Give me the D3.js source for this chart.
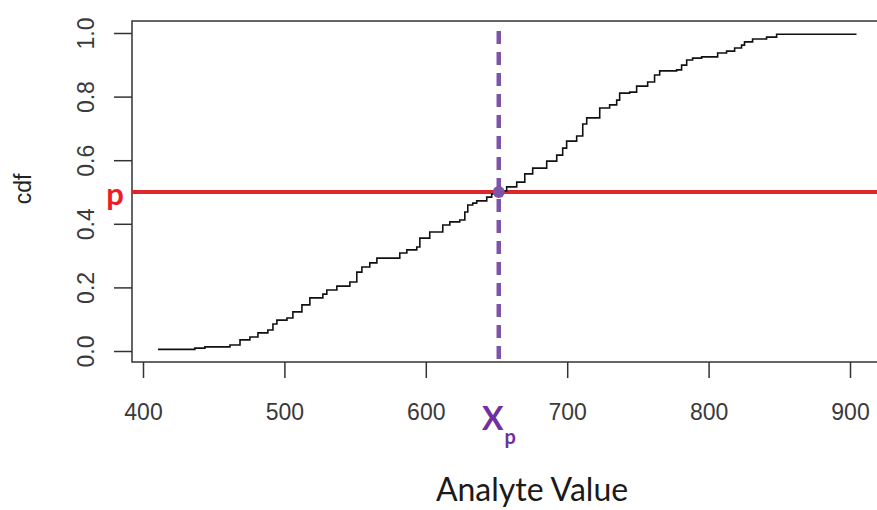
<!DOCTYPE html>
<html>
<head>
<meta charset="utf-8" />
<title>cdf - Analyte Value</title>
<script src="https://d3js.org/d3.v7.min.js"></script>
<style>
  body { margin: 0; background: #ffffff; }
</style>
</head>
<body>
<svg id="viz"></svg>
<script>

var analyteValues = [410.6, 436.7, 443.8, 461.5, 468.6, 475.6, 481.3, 488.3, 491.9, 494.7,
  501.8, 506.0, 512.4, 518.0, 527.2, 530.0, 537.1, 546.3, 551.2, 554.8,
  560.4, 565.4, 581.6, 586.6, 593.6, 595.8, 602.8, 612.0, 617.0, 624.0,
  627.6, 629.7, 633.2, 636.0, 643.1, 646.6, 651.6, 657.2, 664.3, 670.0,
  675.6, 685.5, 692.6, 696.8, 699.6, 706.7, 711.0, 713.8, 723.0, 730.0,
  735.0, 737.1, 744.2, 749.1, 756.9, 761.8, 765.4, 777.4, 780.9, 784.5,
  788.7, 795.1, 806.4, 812.7, 818.4, 823.3, 825.4, 831.1, 841.0, 848.1, 904.6];
var cdfValues = [0.005, 0.009, 0.013, 0.019, 0.035, 0.044, 0.057, 0.066, 0.085, 0.097,
  0.104, 0.123, 0.145, 0.167, 0.179, 0.192, 0.204, 0.217, 0.248, 0.264,
  0.277, 0.292, 0.308, 0.318, 0.327, 0.355, 0.374, 0.396, 0.406, 0.412,
  0.437, 0.459, 0.465, 0.472, 0.484, 0.494, 0.503, 0.516, 0.531, 0.557,
  0.575, 0.597, 0.616, 0.638, 0.660, 0.676, 0.714, 0.733, 0.764, 0.774,
  0.789, 0.811, 0.814, 0.833, 0.846, 0.868, 0.881, 0.884, 0.899, 0.915,
  0.921, 0.925, 0.937, 0.943, 0.953, 0.962, 0.972, 0.981, 0.987, 0.996, 0.996];

var xTicks = [400, 500, 600, 700, 800, 900];
var yTicks = [0.0, 0.2, 0.4, 0.6, 0.8, 1.0];

var pLevel = 0.5;
var xpValue = 651.6;

var width = 877,
    height = 510;

var svg = d3.select("#viz")
  .attr("width", width)
  .attr("height", height);

var xScale = d3.scaleLinear().domain([400, 900]).range([143, 850]);
var yScale = d3.scaleLinear().domain([0, 1]).range([351, 33]);

var points = analyteValues.map(function(v, i) {
  return [v, cdfValues[i]];
});

//box
svg.append("rect")
  .attr("x", 132)
  .attr("y", 21)
  .attr("width", 760)
  .attr("height", 341)
  .attr("fill", "none")
  .attr("stroke", "#333")
  .attr("stroke-width", 1.5);

//x axis
var xAxis = svg.append("g")
  .attr("transform", "translate(0,362)")
  .attr("font-family", "Liberation Sans, Arial, sans-serif")
  .call(d3.axisBottom(xScale).tickValues(xTicks).tickSize(16).tickFormat(d3.format("d")));
xAxis.attr("font-family", "Liberation Sans, Arial, sans-serif");
xAxis.select(".domain").remove();
xAxis.selectAll("line").attr("stroke", "#333").attr("stroke-width", 1.5);
xAxis.selectAll("text")
  .attr("font-size", 23)
  .attr("fill", "#3a3a3a")
  .attr("dy", 0)
  .attr("y", 58);

//y axis, labels turned like R
var yAxis = svg.append("g")
  .attr("transform", "translate(132,0)")
  .call(d3.axisLeft(yScale).tickValues(yTicks).tickSize(18).tickFormat(d3.format(".1f")));
yAxis.attr("font-family", "Liberation Sans, Arial, sans-serif");
yAxis.select(".domain").remove();
yAxis.selectAll("line").attr("stroke", "#333").attr("stroke-width", 1.5);
yAxis.selectAll("text")
  .attr("font-size", 23)
  .attr("fill", "#3a3a3a")
  .attr("transform", "rotate(-90)")
  .attr("x", 0)
  .attr("y", -38)
  .attr("dy", 0)
  .attr("text-anchor", "middle");

svg.append("text")
  .attr("transform", "translate(31,189) rotate(-90)")
  .attr("text-anchor", "middle")
  .attr("font-family", "Liberation Sans, Arial, sans-serif")
  .attr("font-size", 23)
  .attr("fill", "#222")
  .text("cdf");

//p line
svg.append("line")
  .attr("x1", 132)
  .attr("x2", width)
  .attr("y1", yScale(pLevel))
  .attr("y2", yScale(pLevel))
  .attr("stroke", "#dc262d")
  .attr("stroke-width", 4);

//ecdf
var line = d3.line()
  .x(function(d) { return xScale(d[0]); })
  .y(function(d) { return yScale(d[1]); })
  .curve(d3.curveStepAfter);

svg.append("path")
  .datum(points)
  .attr("d", line)
  .attr("fill", "none")
  .attr("stroke", "#111")
  .attr("stroke-width", 1.6);

//xp line
svg.append("line")
  .attr("x1", xScale(xpValue))
  .attr("x2", xScale(xpValue))
  .attr("y1", 31)
  .attr("y2", 362)
  .attr("stroke", "#7d55a8")
  .attr("stroke-width", 4.5)
  .attr("stroke-dasharray", "13,8");

svg.append("circle")
  .attr("cx", xScale(xpValue))
  .attr("cy", yScale(pLevel))
  .attr("r", 6)
  .attr("fill", "#7d55a8");

svg.append("text")
  .attr("x", 115)
  .attr("y", 205)
  .attr("text-anchor", "middle")
  .attr("font-family", "Lato, sans-serif")
  .attr("font-weight", "bold")
  .attr("font-size", 31)
  .attr("fill", "#ee1c25")
  .text("p");

var xpLabel = svg.append("text")
  .attr("x", 482)
  .attr("y", 430)
  .attr("font-family", "Lato, sans-serif")
  .attr("font-weight", "bold")
  .attr("fill", "#7030a0");
xpLabel.append("tspan").attr("font-size", 32).text("X");
xpLabel.append("tspan").attr("font-size", 20).attr("dx", 1).attr("dy", 14).text("p");

svg.append("text")
  .attr("x", 532)
  .attr("y", 501)
  .attr("text-anchor", "middle")
  .attr("font-family", "Lato, sans-serif")
  .attr("font-size", 32)
  .attr("fill", "#1a1a1a")
  .text("Analyte Value");

</script>
</body>
</html>
